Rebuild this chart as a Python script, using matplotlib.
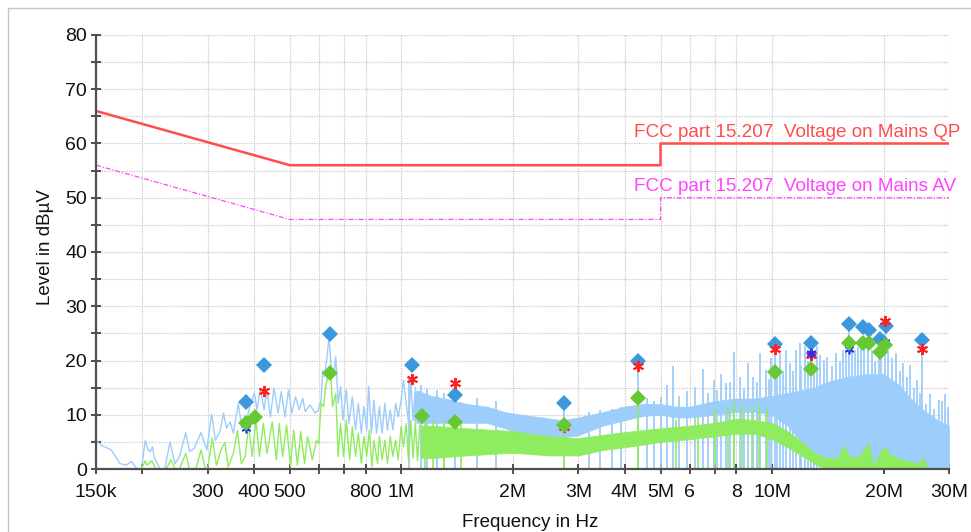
import matplotlib
matplotlib.use("Agg")
import matplotlib.pyplot as plt
import numpy as np
from matplotlib.patches import Rectangle
from matplotlib.ticker import FixedLocator, NullLocator

plt.rcParams["font.family"] = ["Liberation Sans", "DejaVu Sans"]

# limit lines (MHz, dBuV)
limit_freq = [0.15, 0.5, 5.0, 5.0, 30.0]
qp_limit = [66, 56, 56, 60, 60]
av_limit = [56, 46, 46, 50, 50]

# peak trace below ~1 MHz, peaks and troughs (kHz, dBuV)
pk_low_freq = [150, 155, 165, 174, 181, 187, 193, 199, 203.5, 207.5, 210, 213, 215, 223, 230,
               237.5, 245, 252, 262, 268, 276, 288, 298.5, 307.6, 315, 324, 331, 337.6, 345,
               352, 363, 371, 381, 390, 401, 408, 416, 426, 434, 443, 453, 465, 474, 485, 496,
               506, 518, 530, 542, 550, 567, 585, 596, 607, 613, 620, 630, 638, 646, 657, 665,
               675, 685, 695, 710, 722, 737, 752, 765, 780, 792, 806, 816, 830, 843, 857, 872,
               887, 902, 917, 933, 948, 965, 980, 998, 1013, 1030, 1045, 1060, 1075, 1090]
pk_low_level = [5.3, 4.4, 3.5, 1.0, 0.7, 1.4, 0.1, 0, 5.2, 3.5, 3.2, 4.1, 2.3, 0, 0,
                5.0, 1.0, 2.3, 6.7, 3.2, 3.8, 6.7, 3.5, 10.1, 5.3, 6.9, 10.3, 7.5, 8.7,
                6.6, 12.0, 7.5, 8.7, 11.5, 14.0, 10.9, 14.9, 10.9, 14.6, 9.6, 14.9, 10.3, 14.3, 9.6, 14.6,
                10.3, 13.3, 10.9, 13.0, 10.6, 11.8, 10.3, 10.9, 12.7, 18.2, 17.0, 20.7, 24.4, 18.9, 17.3, 20.7,
                12.1, 15.2, 9.0, 14.6, 8.4, 13.3, 7.2, 12.1, 6.6, 11.5, 7.2, 15.2, 6.6, 12.7, 6.6, 11.5,
                6.6, 12.1, 7.2, 10.9, 7.2, 12.1, 9.6, 12.7, 16.4, 12.1, 8.5, 16.0, 9.0, 15.0]

# average trace below ~1 MHz (kHz, dBuV)
av_low_freq = [199, 203.5, 206, 212, 218, 232, 239, 245, 252, 262, 268, 279, 288, 296, 300,
               309, 317, 326, 334, 341, 352, 361, 370, 379, 387, 396, 405, 414, 424, 434,
               448, 460, 468, 478, 490, 502, 512, 524, 535, 548, 558, 575, 590, 598, 607,
               616, 625, 638, 646, 652, 665, 675, 685, 698, 710, 725, 737, 752, 765, 780,
               792, 806, 820, 832, 843, 862, 872, 887, 902, 917, 933, 948, 965, 980, 998,
               1013, 1030, 1045, 1060, 1075, 1090, 1105, 1120]
av_low_level = [0, 1.5, 0.7, 1.5, 0, 0, 1.7, 0, 0, 2.9, 0, 0, 3.5, 0, 0,
                5.7, 0.7, 3.5, 4.9, 0.4, 2.9, 7.1, 1.0, 2.3, 8.1, 2.3, 9.0, 2.3, 8.4, 2.9,
                8.7, 1.7, 8.4, 2.3, 8.1, 0.4, 7.2, 0.7, 6.9, 1.0, 6.0, 1.7, 5.3, 4.7, 12.1,
                11.5, 15.2, 18.2, 16.4, 11.5, 13.9, 2.3, 8.4, 2.3, 9.0, 1.7, 7.8, 2.3, 6.6, 1.0,
                6.0, 2.3, 7.2, 0.4, 5.3, 1.0, 6.0, 1.7, 5.3, 1.0, 6.0, 2.3, 5.3, 1.7, 7.8,
                4.1, 8.4, 1.5, 9.0, 2.0, 8.5, 1.5, 8.0]

# dense part of the peak trace above 1 MHz: lower / upper edge of the band (MHz, dBuV)
pk_band_freq = [1.08, 1.1, 1.2, 1.35, 1.5, 1.7, 1.9, 2.1, 2.4, 2.7, 3.0, 3.5, 4.0, 4.5, 5.0,
                5.5, 6.0, 7.0, 8.0, 9.0, 10.0, 11.0, 12.0, 13.0, 14.0, 16.0, 18.0, 20.0, 22.0,
                24.0, 26.0, 28.0, 30.0]
pk_band_low = [9, 8.5, 8.5, 8.5, 8.5, 8.5, 7.5, 6.5, 5.8, 5.8, 6.2, 8, 9, 9.8, 10,
               9.5, 9.5, 10, 10.5, 10.5, 10, 8, 5, 2, 0, 0, 0, 0, 0,
               0, 0, 0, 0]
pk_band_high = [14, 14.5, 13.5, 12.8, 12, 11.5, 10.5, 10, 9.5, 9, 9.5, 10.5, 11.5, 12, 12,
                11.5, 11.5, 12.5, 13, 13, 13.5, 14, 14.5, 15, 16, 17, 17.5, 17.5, 15.5,
                12.5, 10.5, 9, 8]

# single spikes of the peak trace (MHz, dBuV)
pk_spike_freq = [1.05, 1.13, 1.17, 1.25, 1.3, 1.398, 1.6, 1.8, 2.745, 3.2, 3.44, 3.7, 3.9, 4.355,
                 4.6, 4.8, 5.0, 5.2, 5.4, 5.6, 5.9, 6.2, 6.5, 6.7, 6.95, 7.1, 7.3, 7.5, 7.7, 7.9,
                 8.2, 8.4, 8.6, 8.9, 9.1, 9.3, 9.6, 9.8, 9.95, 10.18, 10.3, 10.5, 10.7, 10.9, 11.2,
                 11.4, 11.6, 11.9, 12.0, 12.3, 12.5, 12.71, 13.0, 13.2, 13.5, 13.8, 14.1, 14.5,
                 14.9, 15.2, 15.5, 15.8, 16.1, 16.4, 16.7, 17.0, 17.4, 17.7, 18.1, 18.6, 19.0,
                 19.4, 19.7, 20.2, 20.6, 21.1, 21.6, 22.1, 22.6, 23.1, 23.6, 24.1, 24.6, 25.0,
                 25.4, 26.0, 26.6, 27.3, 28.2, 28.8, 29.2, 29.9]
pk_spike_level = [17.0, 15.5, 15.0, 14.5, 14.0, 13.6, 13.0, 12.5, 12.2, 10.5, 10.9, 11.0, 11.5, 19.9,
                  13.0, 12.5, 13.3, 15.5, 18.9, 13.5, 14.3, 15.2, 18.5, 14.0, 16.4, 14.5, 17.6, 15.8, 16.0, 21.6,
                  17.0, 15.0, 19.5, 17.0, 16.0, 21.3, 18.2, 16.5, 20.4, 23.0, 17.0, 21.3, 18.0, 21.9, 19.5,
                  18.0, 21.9, 23.2, 19.0, 22.6, 20.0, 23.2, 19.0, 22.6, 21.0, 20.1, 20.7, 19.0,
                  21.3, 20.0, 21.9, 22.0, 26.7, 23.5, 21.9, 22.5, 23.2, 24.0, 24.4, 22.0, 20.0,
                  23.2, 23.0, 26.4, 22.0, 20.5, 21.3, 18.0, 19.5, 17.0, 19.2, 15.0, 16.4, 14.0,
                  23.8, 12.0, 13.9, 11.0, 12.7, 12.5, 13.9, 11.5]

# dense part of the average trace (MHz, dBuV)
av_band_freq = [1.13, 1.2, 1.5, 2.0, 2.5, 3.0, 3.5, 4.0, 4.5, 5.0, 6.0, 7.0, 8.0, 9.0, 10.0,
                11.0, 12.0, 13.0, 14.0, 15.0, 15.6, 16.3, 17.2, 18.2, 18.8, 19.2, 20.0, 21.0,
                23.0, 25.0, 25.5, 26.2, 30.0]
av_band_low = [2, 2, 2.5, 3, 2.5, 2.5, 3.5, 4, 4.5, 5, 5.5, 6, 6.5, 6.5, 5.5,
               4, 2.5, 1, 0, 0, 0, 0, 0, 0, 0, 0, 0, 0,
               0, 0, 0, 0, 0]
av_band_high = [8, 8, 7.5, 7, 6, 5.7, 6.3, 6.8, 7.2, 7.5, 8, 8.5, 9.3, 9, 8.5,
                7, 5, 3, 2, 2, 4.3, 2, 2.5, 4.7, 0.5, 2, 4.1, 2.5,
                1.5, 1, 2.3, 0.3, 0]

av_spike_freq = [1.16, 1.22, 1.3, 1.45, 2.745, 4.355, 5.5, 6.3, 7.0, 7.6, 7.9, 8.3, 8.8, 9.2, 9.7]
av_spike_level = [9.5, 9.0, 8.8, 8.5, 8.1, 13.0, 9.0, 9.5, 11.0, 11.5, 12.5, 12.0, 11.5, 12.0, 11.0]

# final measurement markers (MHz, dBuV)
pk_mark_freq = [0.381, 0.426, 0.640, 1.066, 1.398, 2.745, 4.355, 10.18, 12.71, 16.1, 17.6, 18.2, 19.5, 20.3, 25.4]
pk_mark_level = [12.4, 19.1, 24.9, 19.2, 13.6, 12.2, 19.9, 23.0, 23.2, 26.7, 26.1, 25.7, 23.9, 26.4, 23.7]
av_mark_freq = [0.381, 0.403, 0.640, 1.139, 1.398, 2.745, 4.355, 10.18, 12.71, 16.1, 17.6, 18.2, 19.5, 20.2]
av_mark_level = [8.4, 9.6, 17.7, 9.8, 8.6, 8.1, 13.0, 17.9, 18.5, 23.2, 23.2, 23.2, 21.6, 22.9]
qp_final_freq = [0.426, 1.066, 1.398, 2.745, 4.355, 10.18, 12.71, 20.2, 25.4]
qp_final_level = [14.3, 16.6, 15.8, 7.7, 18.9, 22.2, 21.1, 27.2, 22.2]
av_final_freq = [0.381, 12.71, 16.1, 20.2]
av_final_level = [7.6, 21.3, 22.2, 23.5]

xtick_freq = [0.15, 0.2, 0.3, 0.4, 0.5, 0.6, 0.7, 0.8, 1, 2, 3, 4, 5, 6, 7, 8, 10, 20, 30]
xtick_labels = ["150k", "", "300", "400", "500", "", "", "800", "1M", "2M", "3M", "4M", "5M",
                "6", "", "8", "10M", "20M", "30M"]

PK_LINE = "#9dcdfb"
AV_LINE = "#8fec5e"
PK_MARK = "#3c98dc"
AV_MARK = "#66c832"
QP_COLOR = "#ff4d4d"
AV_COLOR = "#ff44ff"

MHZ = 1e6

fig = plt.figure(figsize=(9.71, 5.32), dpi=100)
ax = fig.add_axes([96 / 971, 63 / 532, 853 / 971, 434 / 532])
fig.add_artist(Rectangle((8 / 971, -0.5), 2, 1.5 - 8 / 532, transform=fig.transFigure,
                         fill=False, edgecolor="#c4c4c4", linewidth=1))

# peak trace
ax.plot(np.array(pk_low_freq) * 1e3, pk_low_level, color=PK_LINE, lw=1.0, zorder=2)
ax.fill_between(np.array(pk_band_freq) * MHZ, pk_band_low, pk_band_high,
                color=PK_LINE, lw=0.5, zorder=2)
ax.vlines(np.array(pk_spike_freq) * MHZ, 0, pk_spike_level, color=PK_LINE, lw=1.3, zorder=2)

# average trace
ax.plot(np.array(av_low_freq) * 1e3, av_low_level, color=AV_LINE, lw=1.0, zorder=3)
ax.fill_between(np.array(av_band_freq) * MHZ, av_band_low, av_band_high,
                color=AV_LINE, lw=0.5, zorder=3)
ax.vlines(np.array(av_spike_freq) * MHZ, 0, av_spike_level, color=AV_LINE, lw=1.2, zorder=3)

# limits
f_lim = np.array(limit_freq) * MHZ
ax.plot(f_lim, qp_limit, color=QP_COLOR, lw=1.8, zorder=4)
ax.plot(f_lim, av_limit, color=AV_COLOR, lw=0.9, ls=(0, (4, 1.5, 1, 1.5)), zorder=4)
ax.text(4.25 * MHZ, 61.2, "FCC part 15.207  Voltage on Mains QP", color=QP_COLOR,
        fontsize=13.6, va="baseline", zorder=6)
ax.text(4.25 * MHZ, 51.2, "FCC part 15.207  Voltage on Mains AV", color=AV_COLOR,
        fontsize=13.6, va="baseline", zorder=6)

# markers
ax.plot(np.array(pk_mark_freq) * MHZ, pk_mark_level, "D", color=PK_MARK, ms=8.5, mew=0, zorder=5)
ax.plot(np.array(qp_final_freq) * MHZ, qp_final_level, marker=(6, 2, 0), ls="none",
        color="#ff2020", ms=8, mew=1.4, zorder=6)
ax.plot(np.array(av_final_freq) * MHZ, av_final_level, marker=(6, 2, 0), ls="none",
        color="#2030ff", ms=7, mew=1.2, zorder=6)
ax.plot(np.array(av_mark_freq) * MHZ, av_mark_level, "D", color=AV_MARK, ms=8.5, mew=0, zorder=7)

ax.set_xscale("log")
ax.set_xlim(0.15 * MHZ, 30 * MHZ)
ax.set_ylim(0, 80)
ax.xaxis.set_major_locator(FixedLocator(np.array(xtick_freq) * MHZ))
ax.xaxis.set_minor_locator(NullLocator())
ax.set_xticklabels(xtick_labels)
ax.set_yticks(range(0, 81, 10))
ax.set_yticks(range(5, 80, 10), minor=True)

ax.set_axisbelow(True)
ax.grid(True, which="both", color="#c8c8c8", ls=(0, (1, 1)), lw=0.9)
for side in ["top", "right"]:
    ax.spines[side].set_visible(False)
for side in ["left", "bottom"]:
    ax.spines[side].set_color("#505050")
    ax.spines[side].set_linewidth(1.6)
    ax.spines[side].set_zorder(8)
ax.tick_params(which="both", direction="inout", length=7, width=1.2, color="#303030",
               labelsize=14, labelcolor="#111111")
ax.tick_params(axis="x", pad=7)
ax.tick_params(axis="y", pad=3)

fig.text(46 / 971, 1 - 247 / 532, "Level in dBµV", rotation=90, ha="center", va="center",
         fontsize=13.5, color="#111111")
fig.text(530 / 971, 1 - 514 / 532, "Frequency in Hz", ha="center", va="top",
         fontsize=13.5, color="#111111")

fig.savefig("out.png", dpi=100)
